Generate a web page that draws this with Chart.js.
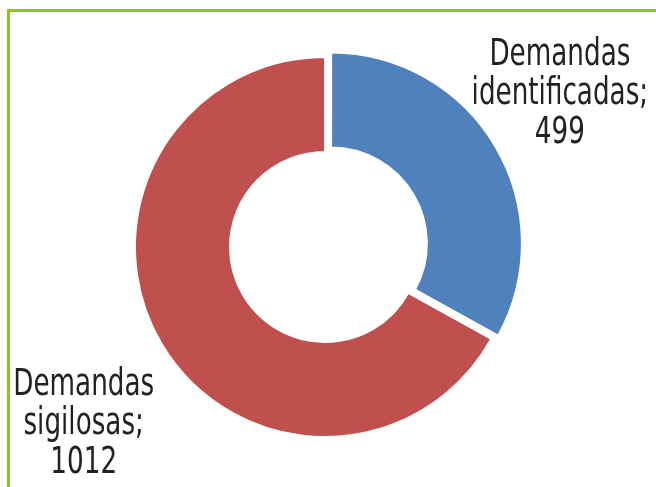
<!DOCTYPE html>
<html>
<head>
<meta charset="utf-8">
<script src="https://cdn.jsdelivr.net/npm/chart.js@4/dist/chart.umd.min.js"></script>
<style>
    html, body { margin: 0; padding: 0; background: #fff; }
    #wrap { position: relative; width: 656px; height: 487px; overflow: hidden; }
    #frame { position: absolute; left: 7px; top: 9px; width: 700px; height: 600px;
             border-left: 3px solid #8dc21f; border-top: 3px solid #8dc21f; }
    #chart { position: absolute; left: 0; top: 0; }
</style>
</head>
<body>
<div id="wrap">
    <div id="frame"></div>
    <canvas id="chart" width="656" height="487"></canvas>
</div>
<script>
    const categories = ['Demandas identificadas', 'Demandas sigilosas'];
    const values = [499, 1012];
    const colors = ['#4f81bd', '#c0504d'];
    // linhas de cada rótulo
    const labelLines = [
        ['Demandas', 'identificadas;', '499'],
        ['Demandas', 'sigilosas;', '1012']
    ];

    // posição do rótulo: ajuste de ângulo (graus) e distância relativa ao raio
    const labelAngleShift = [-2.5, -5.7];
    const labelDist = [1.475, 1.575];

    const labelPlugin = {
        id: 'sliceLabels',
        afterDatasetsDraw(chart) {
            const ctx = chart.ctx;
            const meta = chart.getDatasetMeta(0);
            ctx.save();
            ctx.font = '36px "Liberation Sans Narrow", "DejaVu Sans Condensed", sans-serif';
            ctx.fillStyle = '#222222';
            ctx.textAlign = 'center';
            ctx.textBaseline = 'middle';
            meta.data.forEach((arc, i) => {
                const p = arc.getProps(['x', 'y', 'startAngle', 'endAngle', 'outerRadius']);
                const mid = (p.startAngle + p.endAngle) / 2 + labelAngleShift[i] * Math.PI / 180;
                const d = p.outerRadius * labelDist[i];
                const lx = p.x + Math.cos(mid) * d;
                const ly = p.y + Math.sin(mid) * d;
                const lines = labelLines[i];
                const lh = 39;
                lines.forEach((txt, j) => {
                    const y = ly + (j - (lines.length - 1) / 2) * lh;
                    ctx.save();
                    ctx.translate(lx, y);
                    ctx.scale(0.81, 1.05);
                    ctx.fillText(txt, 0, 0);
                    ctx.restore();
                });
            });
            ctx.restore();
        }
    };

    new Chart(document.getElementById('chart'), {
        type: 'doughnut',
        data: {
            labels: categories,
            datasets: [{
                data: values,
                backgroundColor: colors,
                borderColor: '#ffffff',
                borderWidth: 2,
                offset: [28, 0], // o Chart.js divide o offset por 4
                hoverOffset: 0
            }]
        },
        options: {
            responsive: false,
            animation: false,
            cutout: '50%',
            radius: 190,
            layout: { padding: { left: 0, right: 6, top: 7, bottom: 0 } },
            plugins: {
                legend: { display: false },
                tooltip: { enabled: false }
            }
        },
        plugins: [labelPlugin]
    });
</script>
</body>
</html>
